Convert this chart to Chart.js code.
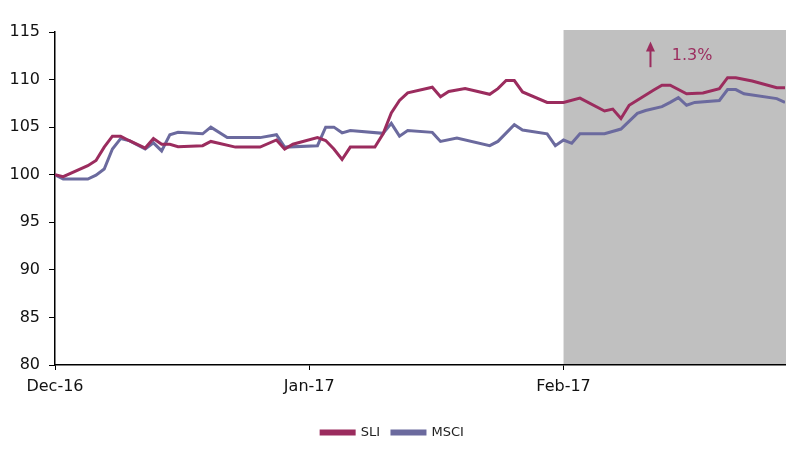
<!DOCTYPE html>
<html>
<head>
<meta charset="utf-8">
<script src="https://cdn.jsdelivr.net/npm/chart.js@4/dist/chart.umd.min.js"></script>
<style>
  html, body { margin: 0; padding: 0; background: #fff; }
  #wrap { width: 800px; height: 453px; position: relative; }
</style>
</head>
<body>
<div id="wrap"><canvas id="c"></canvas></div>
<script>
// ---- data ----
const startDate = '2016-12-01';
const endDate = '2017-02-28';
const tickDates = ['2016-12-01', '2017-01-01', '2017-02-01'];
const tickLabels = ['Dec-16', 'Jan-17', 'Feb-17'];
const yTicks = [80, 85, 90, 95, 100, 105, 110, 115];
const shadeStart = '2017-02-01';

const sliDates = ['2016-12-01','2016-12-02','2016-12-05','2016-12-06','2016-12-07','2016-12-08','2016-12-09','2016-12-10','2016-12-12','2016-12-13','2016-12-14','2016-12-15','2016-12-16','2016-12-19','2016-12-20','2016-12-23','2016-12-26','2016-12-28','2016-12-29','2016-12-30','2017-01-02','2017-01-03','2017-01-04','2017-01-05','2017-01-06','2017-01-09','2017-01-10','2017-01-11','2017-01-12','2017-01-13','2017-01-16','2017-01-17','2017-01-18','2017-01-20','2017-01-23','2017-01-24','2017-01-25','2017-01-26','2017-01-27','2017-01-30','2017-02-01','2017-02-03','2017-02-06','2017-02-07','2017-02-08','2017-02-09','2017-02-12','2017-02-13','2017-02-14','2017-02-16','2017-02-18','2017-02-20','2017-02-21','2017-02-22','2017-02-24','2017-02-27','2017-02-28'];
const sliValues = [100.0,99.8,100.95,101.5,102.9,104.05,104.05,103.6,102.8,103.8,103.2,103.2,102.95,103.05,103.5,102.9,102.9,103.65,102.7,103.2,103.9,103.6,102.7,101.6,102.9,102.9,104.3,106.5,107.8,108.6,109.2,108.2,108.75,109.05,108.45,109.05,109.9,109.9,108.7,107.6,107.6,108.05,106.7,106.9,105.9,107.3,108.9,109.4,109.4,108.5,108.6,109.05,110.2,110.2,109.85,109.15,109.15];

const msciDates = ['2016-12-01','2016-12-02','2016-12-05','2016-12-06','2016-12-07','2016-12-08','2016-12-09','2016-12-10','2016-12-12','2016-12-13','2016-12-14','2016-12-15','2016-12-16','2016-12-19','2016-12-20','2016-12-22','2016-12-26','2016-12-28','2016-12-29','2017-01-02','2017-01-03','2017-01-04','2017-01-05','2017-01-06','2017-01-10','2017-01-11','2017-01-12','2017-01-13','2017-01-16','2017-01-17','2017-01-19','2017-01-23','2017-01-24','2017-01-26','2017-01-27','2017-01-30','2017-01-31','2017-02-01','2017-02-02','2017-02-03','2017-02-06','2017-02-08','2017-02-10','2017-02-11','2017-02-13','2017-02-14','2017-02-15','2017-02-16','2017-02-17','2017-02-20','2017-02-21','2017-02-22','2017-02-23','2017-02-27','2017-02-28'];
const msciValues = [100.0,99.55,99.55,99.95,100.6,102.7,103.8,103.6,102.7,103.35,102.5,104.2,104.45,104.3,105.0,103.9,103.9,104.2,102.9,103.05,105.0,105.0,104.4,104.65,104.35,105.4,104.05,104.65,104.45,103.5,103.85,103.05,103.5,105.25,104.7,104.3,103.05,103.65,103.3,104.3,104.3,104.8,106.45,106.75,107.15,107.6,108.1,107.3,107.6,107.8,108.95,108.95,108.5,108.0,107.6];

const seriesNames = ['SLI', 'MSCI'];
const annotationText = '1.3%';
const arrowDay = 72.6, arrowFrom = 111.3, arrowTo = 114.0;
const labelDay = 75.2, labelValue = 112.5;

// ---- helpers ----
function dayOf(s) {
  const [y, m, d] = s.split('-').map(Number);
  const [y0, m0, d0] = startDate.split('-').map(Number);
  return (Date.UTC(y, m - 1, d) - Date.UTC(y0, m0 - 1, d0)) / 86400000;
}
const tickDays = tickDates.map(dayOf);
const sliData = sliDates.map((d, i) => ({ x: dayOf(d), y: sliValues[i] }));
const msciData = msciDates.map((d, i) => ({ x: dayOf(d), y: msciValues[i] }));

const SLI_COLOR = '#9b2c5e';
const MSCI_COLOR = '#6b6a9e';
const FONT = 'DejaVu Sans';

const shadePlugin = {
  id: 'shade',
  beforeDraw(chart) {
    const { ctx, chartArea, scales } = chart;
    ctx.save();
    ctx.fillStyle = '#ffffff';
    ctx.fillRect(0, 0, chart.width, chart.height);
    const x0 = scales.x.getPixelForValue(dayOf(shadeStart));
    ctx.fillStyle = '#c0c0c0';
    ctx.fillRect(x0, chartArea.top - 2, chartArea.right - x0 + 1, chartArea.bottom - chartArea.top + 2);
    ctx.restore();
  }
};

const notePlugin = {
  id: 'note',
  afterDatasetsDraw(chart) {
    const { ctx, scales } = chart;
    const x = scales.x.getPixelForValue(arrowDay);
    const yb = scales.y.getPixelForValue(arrowFrom);
    const yt = scales.y.getPixelForValue(arrowTo);
    ctx.save();
    ctx.strokeStyle = SLI_COLOR;
    ctx.fillStyle = SLI_COLOR;
    ctx.lineWidth = 2;
    ctx.beginPath();
    ctx.moveTo(x, yb);
    ctx.lineTo(x, yt + 8);
    ctx.stroke();
    ctx.beginPath();
    ctx.moveTo(x, yt);
    ctx.lineTo(x - 4.5, yt + 10);
    ctx.lineTo(x + 4.5, yt + 10);
    ctx.closePath();
    ctx.fill();
    ctx.font = '16px "' + FONT + '"';
    ctx.textBaseline = 'middle';
    ctx.textAlign = 'left';
    ctx.fillText(annotationText, scales.x.getPixelForValue(labelDay), scales.y.getPixelForValue(labelValue));
    ctx.restore();
  }
};

new Chart(document.getElementById('c'), {
  type: 'line',
  data: {
    datasets: [
      { label: seriesNames[0], data: sliData, borderColor: SLI_COLOR, backgroundColor: SLI_COLOR, borderWidth: 3, pointRadius: 0, tension: 0 },
      { label: seriesNames[1], data: msciData, borderColor: MSCI_COLOR, backgroundColor: MSCI_COLOR, borderWidth: 3, pointRadius: 0, tension: 0 }
    ]
  },
  options: {
    responsive: true,
    maintainAspectRatio: false,
    animation: false,
    layout: { padding: { top: 32, right: 15, left: 0, bottom: 4 } },
    plugins: {
      tooltip: { enabled: false },
      legend: {
        position: 'bottom',
        labels: {
          boxWidth: 33, boxHeight: 3, padding: 12,
          color: '#222', font: { family: FONT, size: 13 }
        }
      }
    },
    scales: {
      x: {
        type: 'linear',
        min: dayOf(startDate),
        max: dayOf(endDate),
        border: { color: '#000', width: 1.5 },
        grid: { display: true, drawOnChartArea: false, drawTicks: true, tickLength: 5, color: '#000' },
        afterBuildTicks: (axis) => { axis.ticks = tickDays.map(v => ({ value: v })); },
        afterFit: (s) => { s.height = 49; },
        ticks: {
          autoSkip: false, maxRotation: 0, padding: 7,
          color: '#111', font: { family: FONT, size: 16 },
          callback: (v) => { const i = tickDays.indexOf(v); return i >= 0 ? tickLabels[i] : ''; }
        }
      },
      y: {
        min: yTicks[0],
        max: yTicks[yTicks.length - 1],
        border: { color: '#000', width: 1.5 },
        grid: { display: true, drawOnChartArea: false, drawTicks: true, tickLength: 6, color: '#000' },
        afterBuildTicks: (axis) => { axis.ticks = yTicks.map(v => ({ value: v })); },
        afterFit: (s) => { s.width = 55; },
        ticks: { padding: 9, color: '#111', font: { family: FONT, size: 16 } }
      }
    }
  },
  plugins: [shadePlugin, notePlugin]
});
</script>
</body>
</html>
